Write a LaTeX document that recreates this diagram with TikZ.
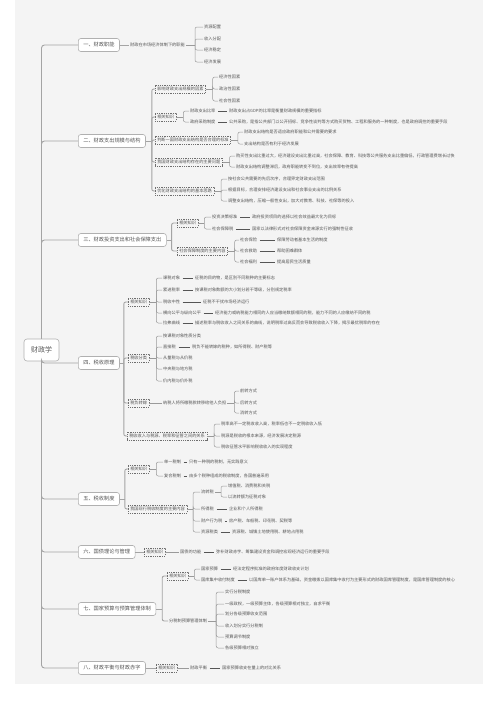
\documentclass[tikz,border=0pt]{standalone}
\usepackage{fontspec}
\setmainfont{Noto Sans CJK SC}
\definecolor{bgc}{HTML}{F4F4F4}
\definecolor{txt}{HTML}{555555}
\definecolor{lnA}{HTML}{A4A4A4}
\definecolor{lnB}{HTML}{9A9A9A}
\definecolor{bdr}{HTML}{B0B0B0}
\definecolor{dsh}{HTML}{6E6E6E}
\tikzset{
  rootbox/.style={draw=bdr, fill=white, rounded corners=3pt, line width=0.6pt, minimum width=35pt, minimum height=22pt, inner sep=0pt, font=\fontsize{7}{8}\selectfont, text=txt},
  mainbox/.style={draw=bdr, fill=white, rounded corners=2.5pt, line width=0.6pt, minimum height=13pt, inner xsep=5pt, inner ysep=0pt, font=\fontsize{5.2}{6}\selectfont, text=txt, anchor=west},
  dbox/.style={draw=dsh, dash pattern=on 1pt off 0.8pt, line width=0.5pt, inner xsep=2pt, inner ysep=0pt, minimum height=8pt, font=\fontsize{4.2}{5}\selectfont, text=txt, anchor=west},
  leaf/.style={inner sep=1pt, font=\fontsize{4.2}{5}\selectfont, text=txt, anchor=west},
  conn/.style={draw=lnB, line width=0.5pt},
  conn1/.style={draw=lnA, line width=0.9pt},
  lbl/.style={draw=txt, line width=0.6pt, shorten <=1.5pt, shorten >=1.5pt}
}
\newcommand{\mmtree}[4][conn]{%
  \draw[#1] (#2.east) -- ++(#3,0) coordinate (#2j);
  \foreach \ch in {#4}{\draw[#1,rounded corners=2pt] (#2j) |- (\ch.west);}}
\begin{document}
\begin{tikzpicture}[x=1pt,y=-1pt]
\useasboundingbox (0,0) rectangle (498,718);
\fill[white] (0,0) rectangle (498,718);
\fill[bgc] (15,0) rectangle (483,684);

% root and level 1
\node[rootbox] (r) at (41.5,350) {财政学};
\node[mainbox] (L1) at (78,45) {一、财政职能};
\node[mainbox] (L2) at (78,141) {二、财政支出规模与结构};
\node[mainbox] (L3) at (78,240) {三、财政投资支出和社会保障支出};
\node[mainbox] (L4) at (78,363) {四、税收原理};
\node[mainbox] (L5) at (78,499) {五、税收制度};
\node[mainbox] (L6) at (78,552) {六、国债理论与管理};
\node[mainbox] (L7) at (78,609) {七、国家预算与预算管理体制};
\node[mainbox] (L8) at (78,668) {八、财政平衡与财政赤字};

% I
\node[leaf] (a1) at (129,45) {财政在市场经济体制下的职能};
\node[leaf] (a11) at (203,27) {资源配置};
\node[leaf] (a12) at (203,39) {收入分配};
\node[leaf] (a13) at (203,50) {经济稳定};
\node[leaf] (a14) at (203,62) {经济发展};

% II
\node[dbox] (b1) at (155,89) {影响财政支出规模的因素};
\node[leaf] (b11) at (218,77) {经济性因素};
\node[leaf] (b12) at (218,89) {政治性因素};
\node[leaf] (b13) at (218,101) {社会性因素};
\node[dbox] (b2) at (155,117) {相关知识};
\node[leaf] (b21) at (189,111) {财政支出比率};
\node[leaf] (b22) at (189,122) {政府采购制度};
\node[leaf] (b21t) at (228,111) {财政支出占GDP的比率是衡量财政规模的重要指标};
\node[leaf] (b22t) at (228,122) {公共采购，是指公共部门以公开招标、竞争性谈判等方式购买货物、工程和服务的一种制度，也是政府调控的重要手段};
\node[dbox] (b3) at (155,140) {判断一国财政支出结构是否合理的标准};
\node[leaf] (b31) at (243,132) {财政支出结构是否适应政府职能和公共需要的要求};
\node[leaf] (b32) at (243,144) {支出结构是否有利于经济发展};
\node[dbox] (b4) at (155,162) {我国财政支出结构存在的主要问题};
\node[leaf] (b41) at (235,156) {购买性支出比重过大，经济建设支出比重过高，社会保障、教育、科技等公共服务支出比重偏低，行政管理费增长过快};
\node[leaf] (b42) at (235,167) {财政支出结构调整滞后，政府职能转变不到位，支出效率有待提高};
\node[dbox] (b5) at (155,191) {优化财政支出结构的基本思路};
\node[leaf] (b51) at (227,179) {按社会公共需要的先后次序，合理界定财政支出范围};
\node[leaf] (b52) at (227,190) {根据目标，合理安排经济建设支出和社会事业支出的比例关系};
\node[leaf] (b53) at (227,201) {调整支出结构，压缩一般性支出，加大对教育、科技、社保等的投入};

% III
\node[dbox] (c1) at (177,223) {相关知识};
\node[leaf] (c11) at (211,217) {投资决策标准};
\node[leaf] (c11t) at (251,217) {政府投资项目的选择以社会效益最大化为目标};
\node[leaf] (c12) at (211,229) {社会保障税};
\node[leaf] (c12t) at (251,229) {国家以法律形式对社会保障资金来源实行的强制性征收};
\node[dbox] (c2) at (177,251) {社会保障制度的主要内容};
\node[leaf] (c21) at (239,240) {社会保险};
\node[leaf] (c21t) at (276,240) {保障劳动者基本生活的制度};
\node[leaf] (c22) at (239,251) {社会救助};
\node[leaf] (c22t) at (276,251) {帮助困难群体};
\node[leaf] (c23) at (239,262) {社会福利};
\node[leaf] (c23t) at (276,262) {提高居民生活质量};

% IV
\node[dbox] (d1) at (128,302) {相关知识};
\node[leaf] (d11) at (162,278) {课税对象};
\node[leaf] (d11t) at (194,278) {征税的目的物，是区别不同税种的主要标志};
\node[leaf] (d12) at (162,290) {累进税率};
\node[leaf] (d12t) at (194,290) {按课税对象数额的大小划分若干等级，分别规定税率};
\node[leaf] (d13) at (162,302) {税收中性};
\node[leaf] (d13t) at (202,302) {征税不干扰市场经济运行};
\node[leaf] (d14) at (162,313) {横向公平与纵向公平};
\node[leaf] (d14t) at (214,313) {经济能力或纳税能力相同的人应当缴纳数额相同的税，能力不同的人应缴纳不同的税};
\node[leaf] (d15) at (162,323) {拉弗曲线};
\node[leaf] (d15t) at (194,323) {描述税率与税收收入之间关系的曲线，说明税率过高反而会导致税收收入下降，揭示最优税率的存在};
\node[dbox] (d2) at (128,358) {税收分类};
\node[leaf] (d21) at (162,336) {按课税对象性质分类};
\node[leaf] (d22) at (162,347) {直接税};
\node[leaf] (d22t) at (191,347) {税负不能转嫁的税种，如所得税、财产税等};
\node[leaf] (d23) at (162,358) {从量税与从价税};
\node[leaf] (d24) at (162,369) {中央税与地方税};
\node[leaf] (d25) at (162,381) {价内税与价外税};
\node[dbox] (d3) at (128,403) {税负转嫁};
\node[leaf] (d31) at (162,403) {纳税人将所缴税款转移给他人负担};
\node[leaf] (d311) at (239,391) {前转方式};
\node[leaf] (d312) at (239,403) {后转方式};
\node[leaf] (d313) at (239,413) {消转方式};
\node[dbox] (d4) at (127,436) {税收收入与税源、税率和征管之间的关系};
\node[leaf] (d41) at (220,424) {税率高不一定税收收入高，税率低也不一定税收收入低};
\node[leaf] (d42) at (220,436) {税源是税收的根本来源，经济发展决定税源};
\node[leaf] (d43) at (220,447) {税收征管水平影响税收收入的实现程度};

% V
\node[dbox] (e1) at (128,469) {相关知识};
\node[leaf] (e11) at (163,462) {单一税制};
\node[leaf] (e11t) at (188,462) {只有一种税的税制，无实践意义};
\node[leaf] (e12) at (163,476) {复合税制};
\node[leaf] (e12t) at (188,476) {由多个税种组成的税收制度，各国普遍采用};
\node[dbox] (e2) at (128,509) {我国现行税收制度的主要内容};
\node[leaf] (e21) at (200,492) {流转税};
\node[leaf] (e211) at (227,486) {增值税、消费税和关税};
\node[leaf] (e212) at (227,497) {以流转额为征税对象};
\node[leaf] (e22) at (200,509) {所得税};
\node[leaf] (e22t) at (228,509) {企业和个人所得税};
\node[leaf] (e23) at (200,521) {财产行为税};
\node[leaf] (e23t) at (228,521) {房产税、车船税、印花税、契税等};
\node[leaf] (e24) at (200,532) {资源税类};
\node[leaf] (e24t) at (231,532) {资源税、城镇土地使用税、耕地占用税};

% VI
\node[dbox] (f1) at (144,552) {相关知识};
\node[leaf] (f11) at (179,552) {国债的功能};
\node[leaf] (f11t) at (215,552) {弥补财政赤字、筹集建设资金和调控宏观经济运行的重要手段};

% VII
\node[dbox] (g1) at (167,576) {相关知识};
\node[leaf] (g11) at (200,569) {国家预算};
\node[leaf] (g11t) at (232,569) {经法定程序批准的政府年度财政收支计划};
\node[leaf] (g12) at (200,580) {国库集中收付制度};
\node[leaf] (g12t) at (248,580) {以国库单一账户体系为基础，资金缴拨以国库集中收付为主要形式的财政国库管理制度，是国库管理制度的核心};
\node[leaf] (g2) at (168,621) {分税制预算管理体制};
\node[leaf] (g21) at (224,592) {实行分税制度};
\node[leaf] (g22) at (224,604) {一级政权，一级预算主体，各级预算相对独立，自求平衡};
\node[leaf] (g23) at (224,614) {划分各级预算收支范围};
\node[leaf] (g24) at (224,626) {收入划分实行分税制};
\node[leaf] (g25) at (224,637) {预算调节制度};
\node[leaf] (g26) at (224,648) {各级预算相对独立};

% VIII
\node[dbox] (h1) at (156,668) {相关知识};
\node[leaf] (h11) at (189,668) {财政平衡};
\node[leaf] (h11t) at (221,668) {国家预算收支在量上的对比关系};

% connectors: root
\begin{scope}[on background layer/.try]
\end{scope}
\foreach \m in {L1,L2,L3}{\draw[conn1,rounded corners=3pt] (r.north) |- (\m.west);}
\foreach \m in {L4,L5,L6,L7,L8}{\draw[conn1,rounded corners=3pt] (r.south) |- (\m.west);}

% I
\draw[conn1] (L1.east) -- (a1.west);
\mmtree{a1}{9}{a11,a12,a13,a14}
% II
\mmtree[conn1]{L2}{6}{b1,b2,b3,b4,b5}
\mmtree{b1}{7}{b11,b12,b13}
\mmtree{b2}{7}{b21,b22}
\mmtree{b3}{7}{b31,b32}
\mmtree{b4}{7}{b41,b42}
\mmtree{b5}{7}{b51,b52,b53}
\draw[lbl] (b21.east) -- (b21t.west);
\draw[lbl] (b22.east) -- (b22t.west);
% III
\mmtree[conn1]{L3}{5}{c1,c2}
\mmtree{c1}{6}{c11,c12}
\mmtree{c2}{7}{c21,c22,c23}
\draw[lbl] (c11.east) -- (c11t.west);
\draw[lbl] (c12.east) -- (c12t.west);
\draw[lbl] (c21.east) -- (c21t.west);
\draw[lbl] (c22.east) -- (c22t.west);
\draw[lbl] (c23.east) -- (c23t.west);
% IV
\mmtree[conn1]{L4}{4}{d1,d2,d3,d4}
\mmtree{d1}{7}{d11,d12,d13,d14,d15}
\mmtree{d2}{7}{d21,d22,d23,d24,d25}
\draw[conn] (d3.east) -- (d31.west);
\mmtree{d31}{7}{d311,d312,d313}
\mmtree{d4}{7}{d41,d42,d43}
\draw[lbl] (d11.east) -- (d11t.west);
\draw[lbl] (d12.east) -- (d12t.west);
\draw[lbl] (d13.east) -- (d13t.west);
\draw[lbl] (d14.east) -- (d14t.west);
\draw[lbl] (d15.east) -- (d15t.west);
\draw[lbl] (d22.east) -- (d22t.west);
% V
\mmtree[conn1]{L5}{5}{e1,e2}
\mmtree{e1}{7}{e11,e12}
\mmtree{e2}{6}{e21,e22,e23,e24}
\mmtree{e21}{6}{e211,e212}
\draw[lbl] (e11.east) -- (e11t.west);
\draw[lbl] (e12.east) -- (e12t.west);
\draw[lbl] (e22.east) -- (e22t.west);
\draw[lbl] (e23.east) -- (e23t.west);
\draw[lbl] (e24.east) -- (e24t.west);
% VI
\draw[conn1] (L6.east) -- (f1.west);
\draw[conn] (f1.east) -- (f11.west);
\draw[lbl] (f11.east) -- (f11t.west);
% VII
\mmtree[conn1]{L7}{6}{g1,g2}
\mmtree{g1}{6}{g11,g12}
\mmtree{g2}{8}{g21,g22,g23,g24,g25,g26}
\draw[lbl] (g11.east) -- (g11t.west);
\draw[lbl] (g12.east) -- (g12t.west);
% VIII
\draw[conn1] (L8.east) -- (h1.west);
\draw[conn] (h1.east) -- (h11.west);
\draw[lbl] (h11.east) -- (h11t.west);
\end{tikzpicture}
\end{document}
